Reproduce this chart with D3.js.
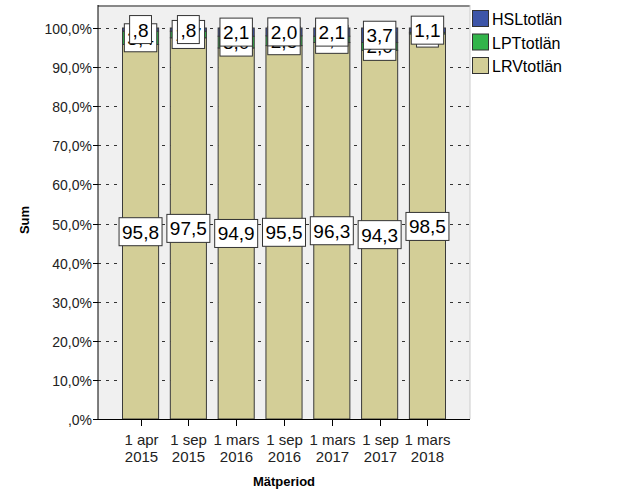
<!DOCTYPE html>
<html><head><meta charset="utf-8">
<script src="https://cdn.jsdelivr.net/npm/d3@7"></script>
<style>body{margin:0;background:#fff;}text{font-family:Arial,"Liberation Sans",sans-serif;}</style>
</head><body>
<svg id="c" width="629" height="504"></svg>
<script>
const categories = ["1 apr|2015","1 sep|2015","1 mars|2016","1 sep|2016","1 mars|2017","1 sep|2017","1 mars|2018"];
const LRV = [95.8, 97.5, 94.9, 95.5, 96.3, 94.3, 98.5];
const LPT = [3.4, 1.7, 3.0, 2.5, 1.6, 2.0, 0.4];
const HSL = [0.8, 0.8, 2.1, 2.0, 2.1, 3.7, 1.1];
const seriesNames = ["HSLtotlän","LPTtotlän","LRVtotlän"];
const yTicks = [0,10,20,30,40,50,60,70,80,90,100];

const colors = {HSLtotlän:"#3d55a8", LPTtotlän:"#32b44a", LRVtotlän:"#d3ce97"};
const svg = d3.select("#c");
const L=98, R=470, T=5, B=419;
const y = d3.scaleLinear().domain([0,100]).range([B,28]);
const x = d3.scaleBand().domain(categories).range([122.5,445.5]).paddingInner(0.245).paddingOuter(0);
const fmt = v => { const s = v.toFixed(1).replace(".",","); return s.startsWith("0")? s.slice(1): s; };

svg.append("rect").attr("x",L).attr("y",T).attr("width",R-L).attr("height",B-T).attr("fill","#f0f0f0");
svg.append("line").attr("x1",L).attr("x2",R).attr("y1",T+1).attr("y2",T+1).attr("stroke","#888").attr("stroke-width",2);
svg.append("line").attr("x1",R).attr("x2",R).attr("y1",T).attr("y2",B).attr("stroke","#ccc");

// grid
svg.append("g").selectAll("line").data(yTicks.filter(d=>d>0)).join("line")
  .attr("x1",L).attr("x2",R).attr("y1",d=>Math.round(y(d))+0.5).attr("y2",d=>Math.round(y(d))+0.5)
  .attr("stroke","#333").attr("stroke-dasharray","3,5");

const stackData = categories.map((c,i)=>({cat:c, LRVtotlän:LRV[i], LPTtotlän:LPT[i], HSLtotlän:HSL[i]}));
const stack = d3.stack().keys(["LRVtotlän","LPTtotlän","HSLtotlän"])(stackData);

svg.append("g").selectAll("g").data(stack).join("g").attr("fill",d=>colors[d.key])
  .selectAll("rect").data(d=>d).join("rect")
  .attr("x",d=>x(d.data.cat)).attr("width",x.bandwidth())
  .attr("y",d=>y(d[1])).attr("height",d=>y(d[0])-y(d[1]))
  .attr("stroke","#3a3a3a").attr("stroke-width",1);

// labels
const lab = svg.append("g");
stack.forEach(s=>{
  s.forEach(d=>{
    const v = d.data[s.key];
    const cx = x(d.data.cat)+x.bandwidth()/2;
    const cy = y((d[0]+d[1])/2);
    const g = lab.append("g");
    const t = g.append("text").attr("x",cx).attr("y",cy+7).attr("text-anchor","middle")
      .attr("font-size",19).attr("fill","#000").text(fmt(v));
    const w = t.node().getComputedTextLength()+6;
    g.insert("rect","text").attr("x",cx-w/2).attr("y",cy-14).attr("width",w).attr("height",28)
      .attr("fill","#fff").attr("stroke","#333").attr("stroke-width",1);
  });
});

// axes
svg.append("line").attr("x1",L).attr("x2",L).attr("y1",T).attr("y2",B).attr("stroke","#000");
svg.append("line").attr("x1",L).attr("x2",R).attr("y1",B+0.5).attr("y2",B+0.5).attr("stroke","#000");
const ya = svg.append("g");
yTicks.forEach(t=>{
  const yy = Math.round(y(t))+0.5;
  ya.append("line").attr("x1",L-5).attr("x2",L).attr("y1",yy).attr("y2",yy).attr("stroke","#000");
  ya.append("text").attr("x",L-6).attr("y",yy+5).attr("text-anchor","end").attr("font-size",14).attr("fill","#222")
    .text((t===0?"":t)+",0%");
});
const xa = svg.append("g");
categories.forEach(c=>{
  const cx = Math.round(x(c)+x.bandwidth()/2)+0.5;
  xa.append("line").attr("x1",cx).attr("x2",cx).attr("y1",B).attr("y2",B+7).attr("stroke","#000");
  const parts = c.split("|");
  parts.forEach((p,i)=>xa.append("text").attr("x",cx).attr("y",445+i*16.5).attr("text-anchor","middle")
    .attr("font-size",15).attr("fill","#222").text(p));
});
svg.append("text").attr("x",284).attr("y",486).attr("text-anchor","middle").attr("font-size",13).attr("font-weight","bold").text("Mätperiod");
svg.append("text").attr("transform","translate(29,220) rotate(-90)").attr("text-anchor","middle").attr("font-size",13).attr("font-weight","bold").text("Sum");

// legend
const lg = svg.append("g");
seriesNames.forEach((n,i)=>{
  lg.append("rect").attr("x",472.5).attr("y",10.5+i*23.5).attr("width",16).attr("height",16).attr("fill",colors[n]).attr("stroke","#333");
  lg.append("text").attr("x",492).attr("y",25+i*23.5).attr("font-size",16).attr("fill","#000").text(n);
});
</script>
</body></html>
